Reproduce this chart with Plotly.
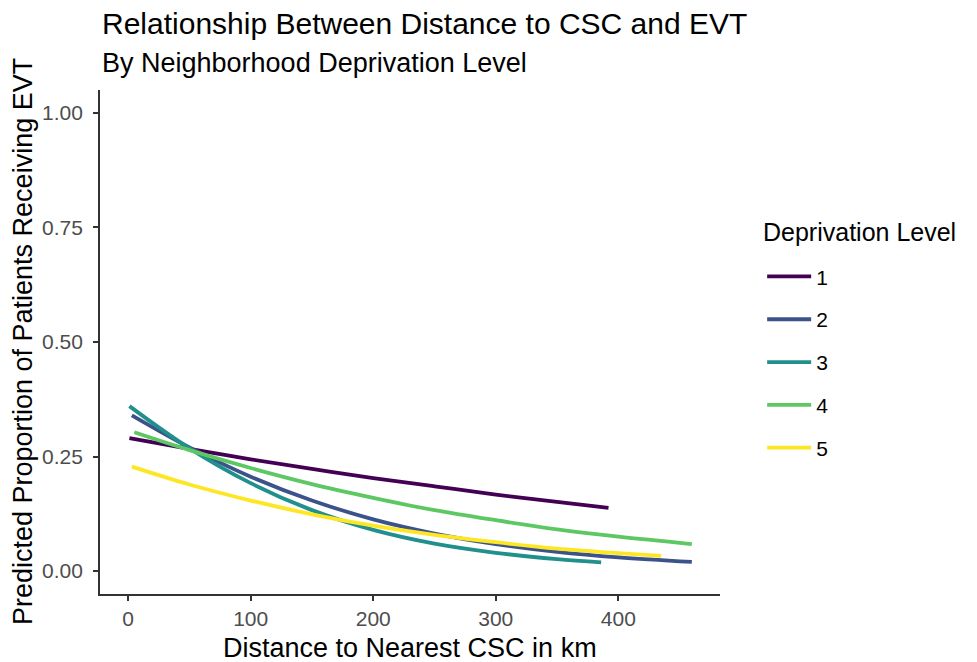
import plotly.graph_objects as go

# Data
levels = ["1", "2", "3", "4", "5"]
colors = ["#440154", "#3B528B", "#21908C", "#5DC863", "#FDE725"]

x1 = [1, 50, 100, 150, 200, 250, 300, 350, 392]
y1 = [0.290, 0.267, 0.244, 0.223, 0.203, 0.185, 0.167, 0.151, 0.138]

x2 = [3, 50, 100, 150, 200, 250, 300, 350, 400, 460]
y2 = [0.340, 0.270, 0.206, 0.154, 0.113, 0.082, 0.059, 0.042, 0.030, 0.020]

x3 = [1, 50, 100, 150, 200, 250, 300, 350, 386]
y3 = [0.360, 0.268, 0.192, 0.133, 0.090, 0.060, 0.040, 0.026, 0.019]

x4 = [5, 50, 100, 150, 200, 250, 300, 350, 400, 460]
y4 = [0.303, 0.264, 0.225, 0.190, 0.160, 0.133, 0.111, 0.091, 0.075, 0.059]

x5 = [3, 50, 100, 150, 200, 250, 300, 350, 400, 435]
y5 = [0.228, 0.189, 0.154, 0.124, 0.099, 0.079, 0.063, 0.049, 0.039, 0.033]

xs = [x1, x2, x3, x4, x5]
ys = [y1, y2, y3, y4, y5]

x_ticks = [0, 100, 200, 300, 400]
y_ticks = [0, 0.25, 0.5, 0.75, 1.0]
y_tick_labels = ["0.00", "0.25", "0.50", "0.75", "1.00"]

title_text = "Relationship Between Distance to CSC and EVT"
subtitle_text = "By Neighborhood Deprivation Level"
x_title = "Distance to Nearest CSC in km"
y_title = "Predicted Proportion of Patients Receiving EVT"
legend_title = "Deprivation Level"

FONT = "Liberation Sans, Arial, Helvetica, sans-serif"

fig = go.Figure()
for lev, col, x, y in zip(levels, colors, xs, ys):
    fig.add_trace(go.Scatter(
        x=x, y=y, mode="lines", name=lev, legendgroup=lev,
        line=dict(color=col, width=3.8, shape="spline"),
    ))

axis_common = dict(
    showgrid=False, zeroline=False, showline=True, linecolor="#333333", linewidth=1.8,
    ticks="outside", ticklen=5, tickwidth=1.5, tickcolor="#333333",
    tickfont=dict(family=FONT, size=21, color="#4D4D4D"),
    automargin=False,
)

fig.update_layout(
    width=969, height=654,
    paper_bgcolor="white", plot_bgcolor="white",
    margin=dict(l=92, r=257, t=82, b=68),
    font=dict(family=FONT, color="black"),
    xaxis=dict(range=[-23, 483], tickvals=x_ticks, **axis_common),
    yaxis=dict(range=[-0.05, 1.05], tickvals=y_ticks, ticktext=y_tick_labels,
               ticklabelstandoff=6, **axis_common),
    legend=dict(
        font=dict(family=FONT, size=21, color="black"),
        x=1.068, xanchor="left", y=0.670, yanchor="top",
        tracegroupgap=12.5, itemwidth=44,
    ),
    showlegend=True,
    annotations=[
        dict(text=title_text, xref="paper", yref="paper", x=0, y=1.131,
             xanchor="left", yanchor="middle", showarrow=False,
             font=dict(family=FONT, size=30, color="black")),
        dict(text=subtitle_text, xref="paper", yref="paper", x=0, y=1.0545,
             xanchor="left", yanchor="middle", showarrow=False,
             font=dict(family=FONT, size=27, color="black")),
        dict(text=x_title, xref="paper", yref="paper", x=0.5, y=-0.107,
             xanchor="center", yanchor="middle", showarrow=False,
             font=dict(family=FONT, size=27, color="black")),
        dict(text=y_title, xref="paper", yref="paper", x=-0.124, y=0.5,
             xanchor="center", yanchor="middle", showarrow=False, textangle=-90,
             font=dict(family=FONT, size=27, color="black")),
        dict(text=legend_title, xref="paper", yref="paper", x=1.066, y=0.718,
             xanchor="left", yanchor="middle", showarrow=False,
             font=dict(family=FONT, size=25, color="black")),
    ],
)

fig.write_html("out.html")
